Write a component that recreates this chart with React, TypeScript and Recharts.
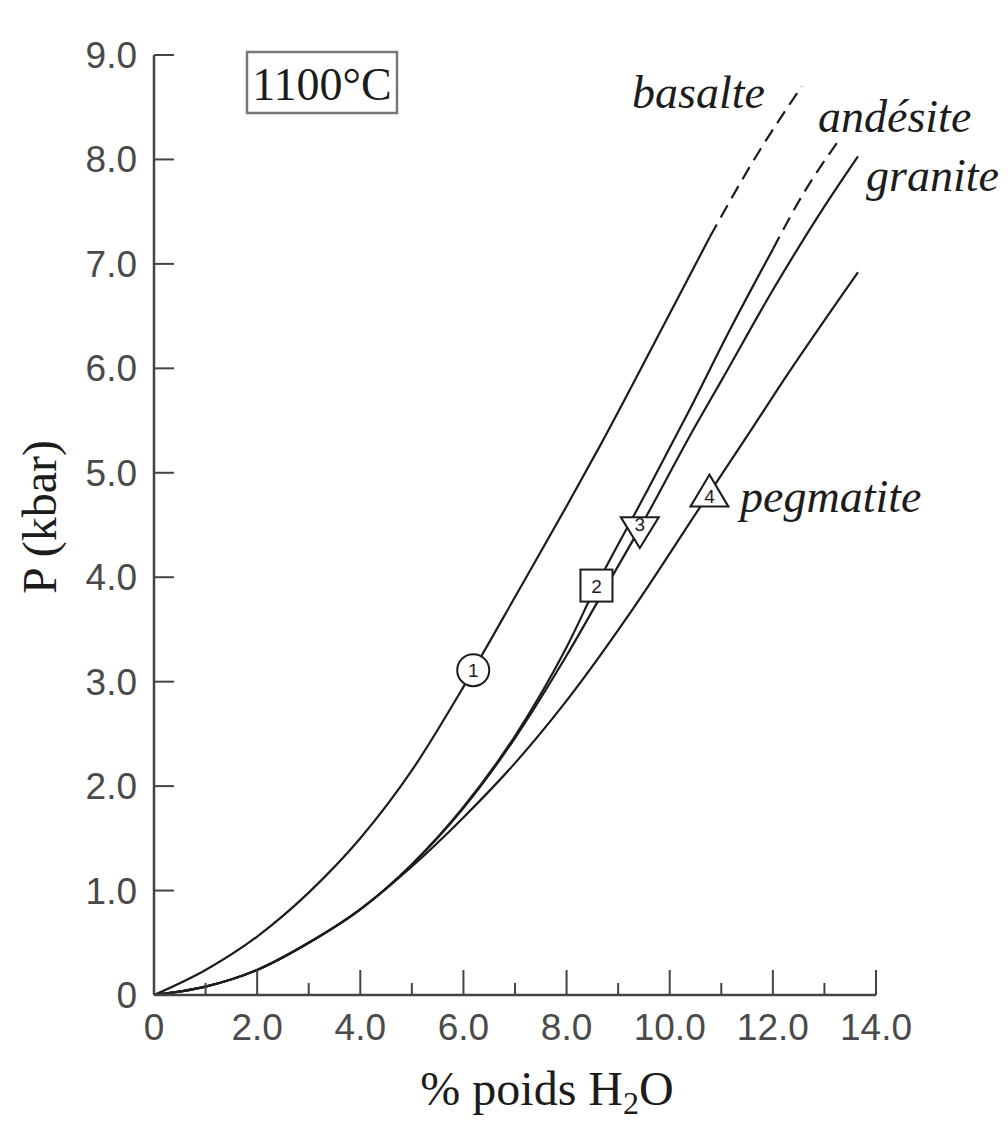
import { ComposedChart, Line, Scatter, XAxis, YAxis } from 'recharts';

// chart frame (page pixels)
const W = 1008;
const H = 1138;
const PLOT_LEFT = 154;
const PLOT_RIGHT = 876;
const PLOT_TOP = 55;
const PLOT_BOTTOM = 995;

const X_TICKS = [0, 1, 2, 3, 4, 5, 6, 7, 8, 9, 10, 11, 12, 13, 14];
const Y_TICKS = [0, 1, 2, 3, 4, 5, 6, 7, 8, 9];

// [% poids H2O, P kbar]
const BASALTE = [
  [0, 0], [1, 0.24], [2, 0.56], [3, 0.98], [4, 1.5], [5, 2.15], [6, 2.95],
  [6.19, 3.11], [7, 3.81], [8, 4.68], [8.65, 5.26], [9.7, 6.24], [10.78, 7.26],
];
const BASALTE_DASH = [[10.78, 7.26], [11.7, 8.05], [12.56, 8.7]];

const ANDESITE = [
  [0, 0], [1, 0.08], [2, 0.24], [3, 0.5], [4, 0.82], [5, 1.25], [6, 1.8],
  [7, 2.48], [8, 3.33], [8.58, 3.92], [9.5, 4.77], [10.33, 5.55], [11.2, 6.4], [12.0, 7.14],
];
const ANDESITE_DASH = [[12.0, 7.14], [12.6, 7.68], [13.26, 8.17]];

const GRANITE = [
  [0, 0], [1, 0.08], [2, 0.24], [3, 0.5], [4, 0.82], [5, 1.25], [6, 1.79],
  [7, 2.46], [8, 3.25], [8.7, 3.85], [9.42, 4.47], [10.5, 5.45], [11, 5.88], [12, 6.75], [13, 7.55], [13.65, 8.03],
];

const PEGMATITE = [
  [0, 0], [1, 0.08], [2, 0.24], [3, 0.5], [4, 0.82], [5, 1.23], [6, 1.7],
  [7, 2.22], [7.94, 2.78], [9.29, 3.7], [10.56, 4.65], [11.5, 5.35], [12.2, 5.88], [13.65, 6.92],
];

const MARKER_X = [6.19, 8.58, 9.42, 10.77];
const MARKER_Y = [3.11, 3.92, 4.47, 4.81];
const MARKER_LABELS = ['1', '2', '3', '4'];
const MARKER_SHAPES = ['circle', 'square', 'down', 'up'];

const toPts = (arr: number[][]) => arr.map(([x, y]) => ({ x, y }));

const markers = MARKER_X.map((x, i) => ({
  x, y: MARKER_Y[i], label: MARKER_LABELS[i], shape: MARKER_SHAPES[i],
}));

const INK = '#1c1c1c';
const AXIS = '#444';
const TICK_FONT = '"Liberation Sans", Arial, sans-serif';
const SERIF = '"Liberation Serif", "Times New Roman", serif';

function XTick(props: any) {
  const { x, payload } = props;
  const v = payload.value;
  const major = v % 2 === 0;
  const len = major ? 25 : 12;
  return (
    <g>
      {v > 0 && (
        <line x1={x} x2={x} y1={PLOT_BOTTOM} y2={PLOT_BOTTOM - len} stroke={AXIS} strokeWidth={2} />
      )}
      {major && (
        <text x={x} y={1040} textAnchor="middle" fontFamily={TICK_FONT} fontSize={37} fill="#4a4a4a">
          {v === 0 ? '0' : v.toFixed(1)}
        </text>
      )}
    </g>
  );
}

function YTick(props: any) {
  const { y, payload } = props;
  const v = payload.value;
  return (
    <g>
      {v > 0 && (
        <line x1={PLOT_LEFT} x2={PLOT_LEFT + 20} y1={y} y2={y} stroke={AXIS} strokeWidth={2} />
      )}
      <text x={137} y={y + 13} textAnchor="end" fontFamily={TICK_FONT} fontSize={37} fill="#4a4a4a">
        {v === 0 ? '0' : v.toFixed(1)}
      </text>
    </g>
  );
}

function Marker(props: any) {
  const { cx, cy, payload } = props;
  if (cx == null || cy == null) return null;
  const common = { fill: '#fff', stroke: INK, strokeWidth: 2 };
  let shape;
  let ty = cy + 7;
  if (payload.shape === 'circle') {
    shape = <circle cx={cx} cy={cy} r={16} {...common} />;
  } else if (payload.shape === 'square') {
    shape = <rect x={cx - 16} y={cy - 16} width={32} height={32} {...common} />;
  } else if (payload.shape === 'down') {
    shape = <polygon points={`${cx - 19},${cy - 11} ${cx + 19},${cy - 11} ${cx},${cy + 20}`} {...common} />;
    ty = cy + 3;
  } else {
    shape = <polygon points={`${cx},${cy - 18} ${cx + 19},${cy + 14} ${cx - 19},${cy + 14}`} {...common} />;
    ty = cy + 10;
  }
  return (
    <g>
      {shape}
      <text x={cx} y={ty} textAnchor="middle" fontFamily={TICK_FONT} fontSize={19} fill={INK}>
        {payload.label}
      </text>
    </g>
  );
}

export default function App() {
  const lineProps = {
    type: 'monotone' as const,
    dataKey: 'y',
    stroke: INK,
    strokeWidth: 2.2,
    dot: false,
    activeDot: false,
    isAnimationActive: false,
  };

  return (
    <div style={{ position: 'absolute', left: 0, top: 0, width: W, height: H, background: '#fff' }}>
      <ComposedChart
        width={W}
        height={H}
        margin={{ top: PLOT_TOP, right: W - PLOT_RIGHT, left: PLOT_LEFT - 100, bottom: H - PLOT_BOTTOM - 100 }}
      >
        <XAxis
          type="number"
          dataKey="x"
          domain={[0, 14]}
          ticks={X_TICKS}
          interval={0}
          height={100}
          tickLine={false}
          axisLine={{ stroke: AXIS, strokeWidth: 2.5 }}
          tick={<XTick />}
        />
        <YAxis
          type="number"
          dataKey="y"
          domain={[0, 9]}
          ticks={Y_TICKS}
          interval={0}
          width={100}
          tickLine={false}
          axisLine={{ stroke: AXIS, strokeWidth: 2.5 }}
          tick={<YTick />}
        />
        <Line {...lineProps} data={toPts(BASALTE)} />
        <Line {...lineProps} data={toPts(BASALTE_DASH)} strokeDasharray="14 8" />
        <Line {...lineProps} data={toPts(ANDESITE)} />
        <Line {...lineProps} data={toPts(ANDESITE_DASH)} strokeDasharray="14 8" />
        <Line {...lineProps} data={toPts(GRANITE)} />
        <Line {...lineProps} data={toPts(PEGMATITE)} />
        <Scatter data={markers} dataKey="y" shape={<Marker />} isAnimationActive={false} />
      </ComposedChart>

      <svg width={W} height={H} style={{ position: 'absolute', left: 0, top: 0, pointerEvents: 'none' }}>
        <text
          transform="translate(56, 517) rotate(-90)"
          textAnchor="middle"
          fontFamily={SERIF}
          fontSize={48}
          fill={INK}
        >
          P (kbar)
        </text>
        <text x={547} y={1105} textAnchor="middle" fontFamily={SERIF} fontSize={48} fill={INK}>
          % poids H<tspan fontSize={32} dy={9}>2</tspan><tspan dy={-9}>O</tspan>
        </text>

        <rect x={247} y={52} width={150} height={61} fill="#fff" stroke="#777" strokeWidth={2.5} />
        <text x={322} y={100} textAnchor="middle" fontFamily={SERIF} fontSize={46} fill={INK}>
          1100°C
        </text>

        <text x={632} y={108} fontFamily={SERIF} fontStyle="italic" fontSize={46} fill={INK}>basalte</text>
        <text x={818} y={132} fontFamily={SERIF} fontStyle="italic" fontSize={46} fill={INK}>andésite</text>
        <text x={866} y={191} fontFamily={SERIF} fontStyle="italic" fontSize={46} fill={INK}>granite</text>
        <text x={740} y={512} fontFamily={SERIF} fontStyle="italic" fontSize={46} fill={INK}>pegmatite</text>
      </svg>
    </div>
  );
}
